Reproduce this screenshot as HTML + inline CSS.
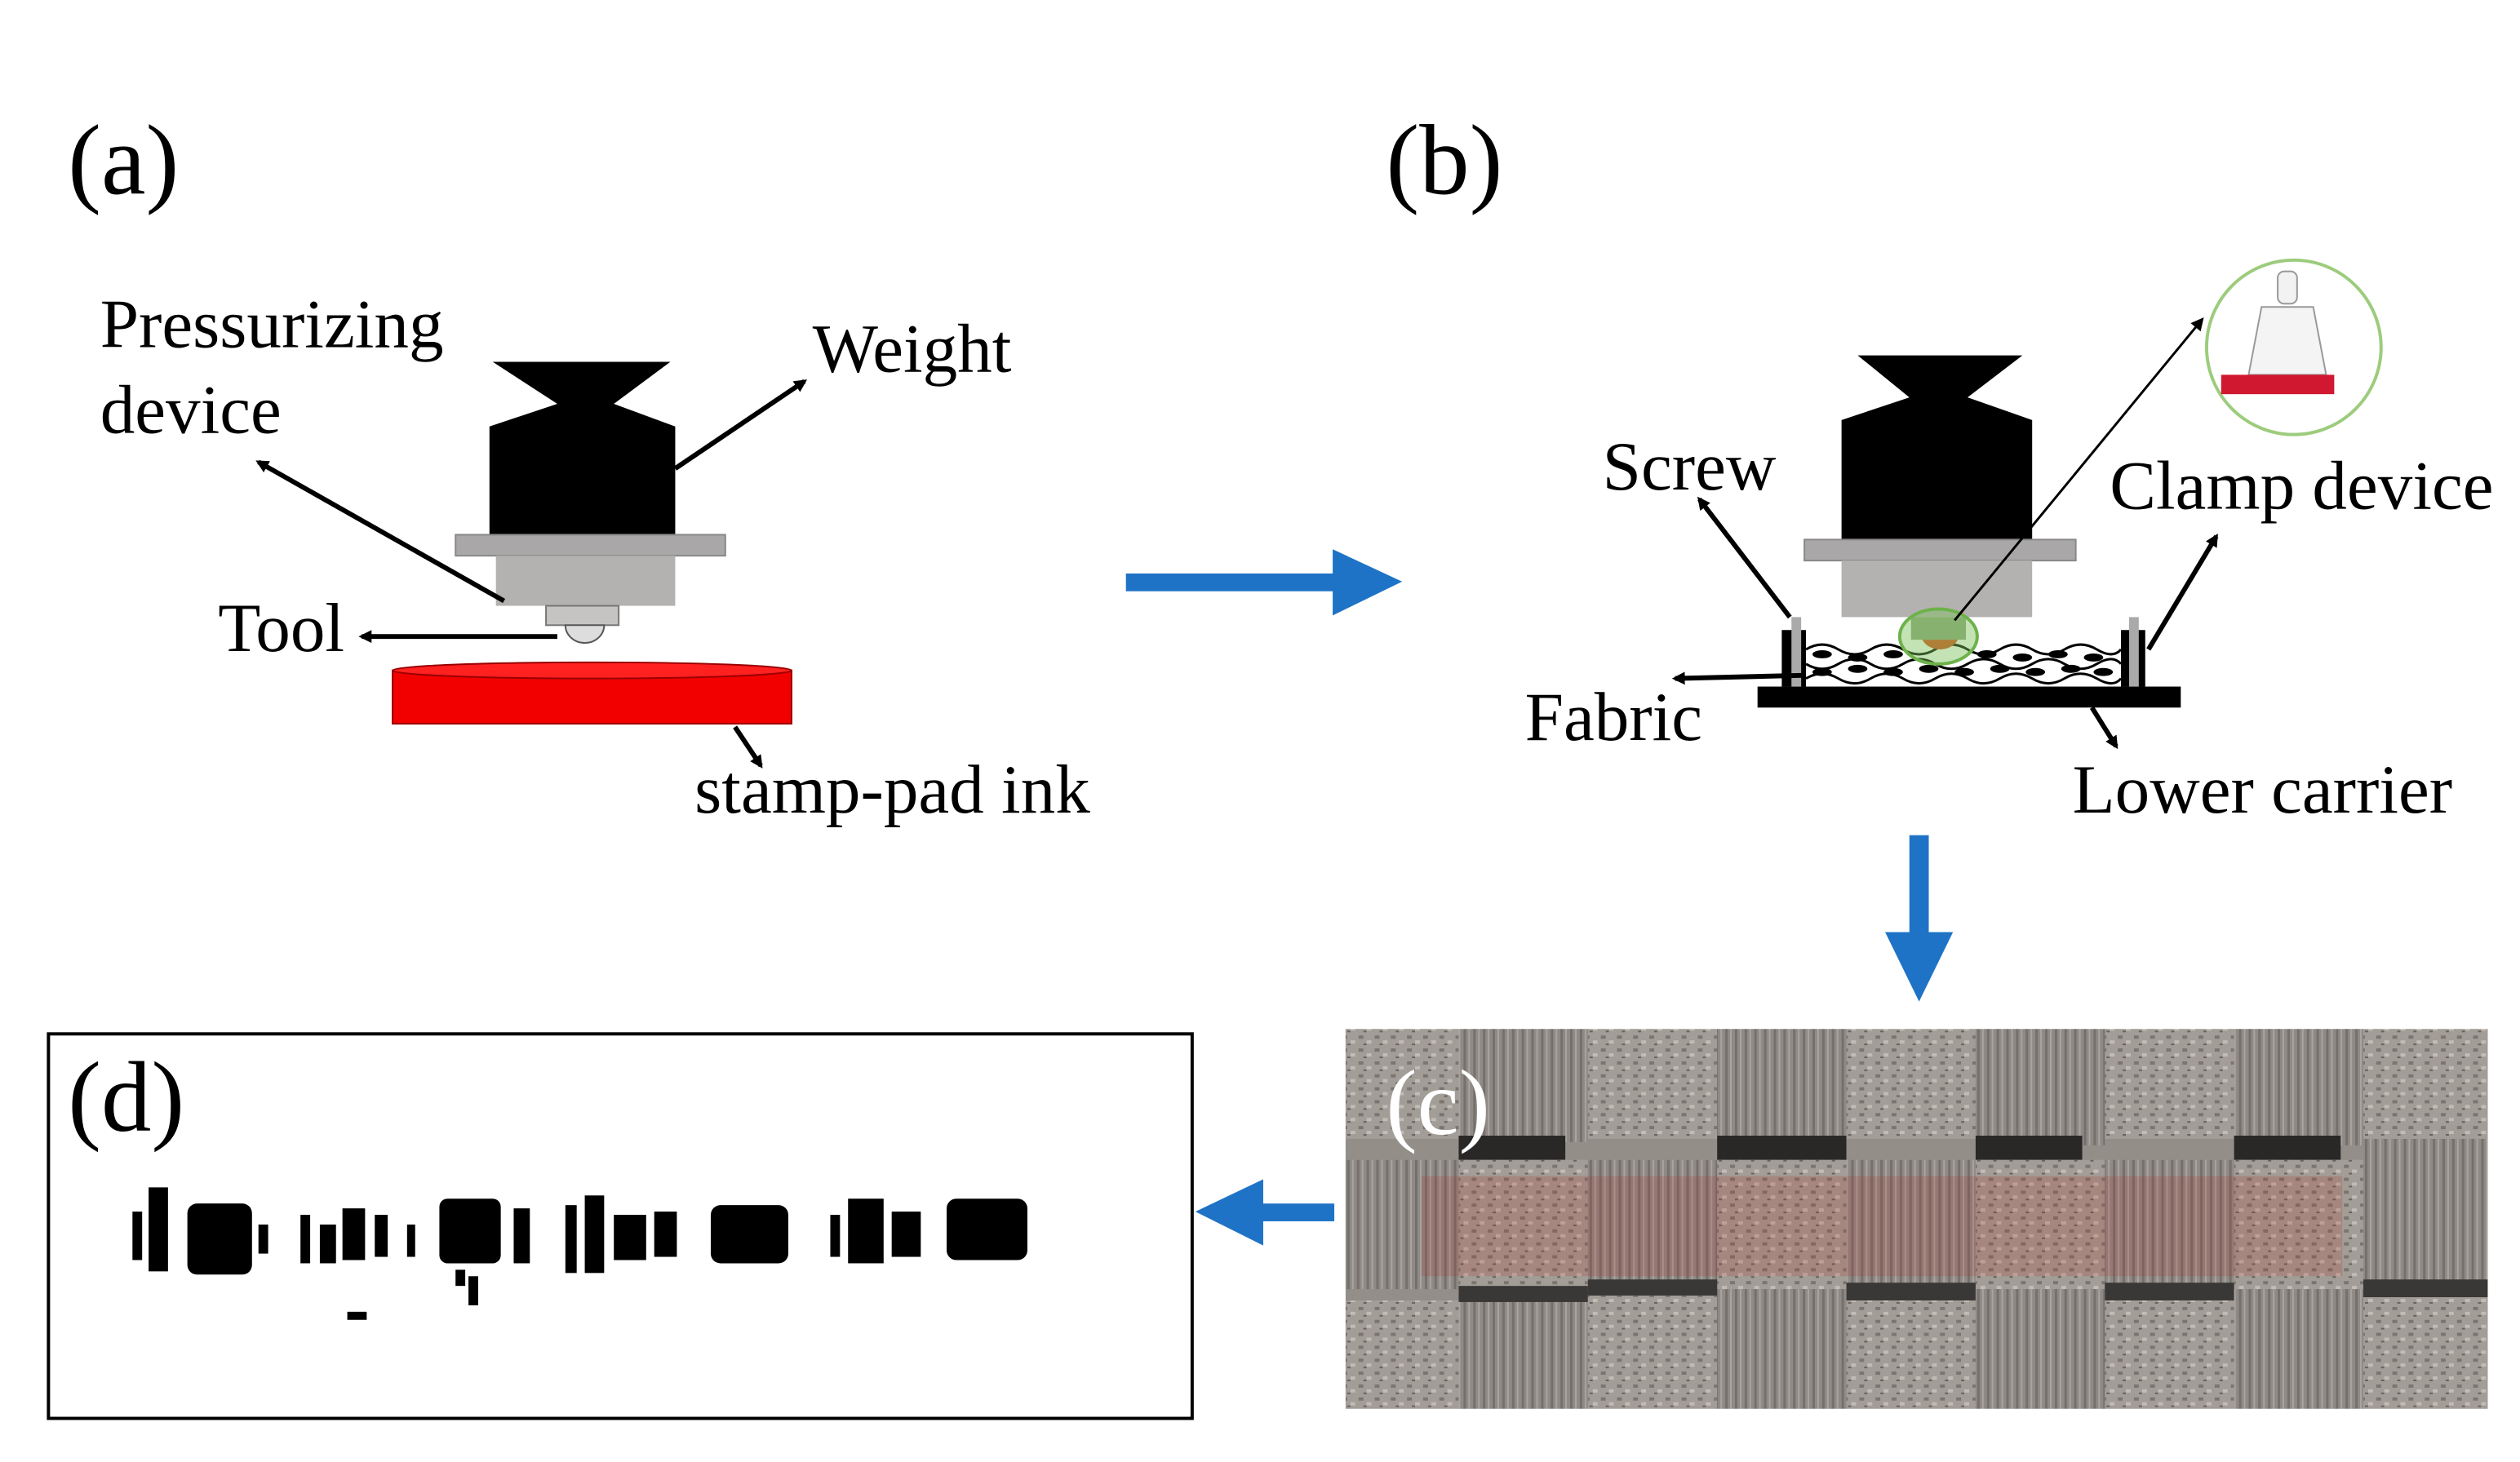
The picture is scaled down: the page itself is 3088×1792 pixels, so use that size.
<!DOCTYPE html>
<html><head><meta charset="utf-8"><style>
html,body{margin:0;padding:0;background:#fff}
svg{display:block}
text{font-family:"Liberation Serif",serif;fill:#000}
</style></head><body>
<svg width="3088" height="1792" viewBox="0 0 1560 905" preserveAspectRatio="none" xmlns="http://www.w3.org/2000/svg">
<defs>
<marker id="ah" markerWidth="8" markerHeight="8" refX="6" refY="4" orient="auto" markerUnits="userSpaceOnUse"><path d="M0,0 L8,4 L0,8 Z" fill="#000"/></marker>
<pattern id="vl" width="6" height="40" patternUnits="userSpaceOnUse">
<rect width="6" height="40" fill="#8f8a86"/><rect x="0" width="1.5" height="40" fill="#75706c"/><rect x="3" width="1" height="40" fill="#aaa49f"/></pattern>
<pattern id="sp" width="10" height="8" patternUnits="userSpaceOnUse">
<rect width="10" height="8" fill="#a39d97"/><rect x="1" y="1" width="3" height="2" fill="#7a7571"/><rect x="6" y="4" width="3" height="2" fill="#c2bcb6"/><rect x="4" y="6" width="2" height="1" fill="#67625f"/></pattern>
</defs>

<!-- Panel a -->
<text x="42" y="120" font-size="62">(a)</text>
<text x="62" y="215" font-size="43">Pressurizing</text>
<text x="62" y="268" font-size="43">device</text>
<text x="503" y="230" font-size="43">Weight</text>
<text x="135" y="403" font-size="43">Tool</text>
<text x="430" y="503" font-size="43">stamp-pad ink</text>
<polygon points="305,224 415,224 380,250 418,264 418,332 303,332 303,264 345,250" fill="#000"/>
<rect x="282" y="331" width="167" height="13" fill="#a9a7a7" stroke="#888" stroke-width="1"/>
<rect x="307" y="344" width="111" height="31" fill="#b4b1b1"/>
<rect x="338" y="375" width="45" height="12" fill="#c6c3c3" stroke="#777" stroke-width="1"/>
<path d="M350,387 A12,11 0 0 0 374,387 Z" fill="#ddd" stroke="#555" stroke-width="1"/>
<rect x="243" y="415" width="247" height="33" fill="#f20000" stroke="#900" stroke-width="1"/>
<ellipse cx="366.5" cy="415" rx="123.5" ry="5" fill="#ff2020" stroke="#900" stroke-width="1"/>
<line x1="312" y1="372" x2="160" y2="286" stroke="#000" stroke-width="3" marker-end="url(#ah)"/>
<line x1="418" y1="290" x2="498" y2="236" stroke="#000" stroke-width="3" marker-end="url(#ah)"/>
<line x1="345" y1="394" x2="224" y2="394" stroke="#000" stroke-width="3" marker-end="url(#ah)"/>
<line x1="455" y1="450" x2="471" y2="474" stroke="#000" stroke-width="3" marker-end="url(#ah)"/>

<!-- blue arrows -->
<rect x="697" y="355" width="130" height="11" fill="#1f73c6"/>
<polygon points="825,340 868,360 825,381" fill="#1f73c6"/>
<rect x="1182" y="517" width="12" height="62" fill="#1f73c6"/>
<polygon points="1167,577 1188,620 1209,577" fill="#1f73c6"/>
<rect x="780" y="745" width="46" height="11" fill="#1f73c6"/>
<polygon points="782,730 740,750 782,771" fill="#1f73c6"/>

<!-- Panel b -->
<text x="858" y="120" font-size="62">(b)</text>
<text x="992" y="303" font-size="43">Screw</text>
<text x="1306" y="315" font-size="43">Clamp device</text>
<text x="944" y="458" font-size="43">Fabric</text>
<text x="1283" y="503" font-size="43">Lower carrier</text>
<polygon points="1150,220 1252,220 1218,246 1258,260 1258,334 1140,334 1140,260 1182,246" fill="#000"/>
<rect x="1117" y="334" width="168" height="13" fill="#a9a7a7" stroke="#888" stroke-width="1"/>
<rect x="1140" y="347" width="118" height="35" fill="#b4b1b1"/>
<rect x="1088" y="425" width="262" height="13" fill="#000"/>
<rect x="1103" y="390" width="15" height="35" fill="#000"/>
<rect x="1109" y="382" width="6" height="43" fill="#aaa"/>
<rect x="1313" y="390" width="15" height="35" fill="#000"/>
<rect x="1318" y="382" width="6" height="43" fill="#aaa"/>
<g stroke="#000" stroke-width="1.5" fill="none">
<path d="M1118,402 q10,-6 20,0 t20,0 t20,0 t20,0 t20,0 t20,0 t20,0 t20,0 t20,0 t15,0"/>
<path d="M1118,411 q10,6 20,0 t20,0 t20,0 t20,0 t20,0 t20,0 t20,0 t20,0 t20,0 t15,0"/>
<path d="M1118,420 q10,-6 20,0 t20,0 t20,0 t20,0 t20,0 t20,0 t20,0 t20,0 t20,0 t15,0"/>
</g>
<g fill="#000">
<ellipse cx="1128" cy="405" rx="6" ry="2.5"/><ellipse cx="1150" cy="407" rx="6" ry="2.5"/><ellipse cx="1172" cy="405" rx="6" ry="2.5"/><ellipse cx="1230" cy="405" rx="6" ry="2.5"/><ellipse cx="1252" cy="407" rx="6" ry="2.5"/><ellipse cx="1274" cy="405" rx="6" ry="2.5"/><ellipse cx="1296" cy="407" rx="6" ry="2.5"/>
<ellipse cx="1128" cy="416" rx="6" ry="2.5"/><ellipse cx="1150" cy="414" rx="6" ry="2.5"/><ellipse cx="1172" cy="416" rx="6" ry="2.5"/><ellipse cx="1194" cy="414" rx="6" ry="2.5"/><ellipse cx="1216" cy="416" rx="6" ry="2.5"/><ellipse cx="1238" cy="414" rx="6" ry="2.5"/><ellipse cx="1260" cy="416" rx="6" ry="2.5"/><ellipse cx="1282" cy="414" rx="6" ry="2.5"/><ellipse cx="1302" cy="416" rx="6" ry="2.5"/>
</g>
<rect x="1183" y="382" width="34" height="14" fill="#8fa57e"/>
<path d="M1190,396 A12,10 0 0 0 1212,396 Z" fill="#d64a1a"/>
<ellipse cx="1200" cy="394" rx="24" ry="17" fill="#7cc25a" fill-opacity="0.45" stroke="#6db24a" stroke-width="2"/>
<line x1="1210" y1="384" x2="1363" y2="198" stroke="#000" stroke-width="1.5" marker-end="url(#ah)"/>
<circle cx="1420" cy="215" r="54" fill="#fff" stroke="#9ccc7c" stroke-width="2"/>
<rect x="1410" y="168" width="12" height="20" rx="4" fill="#f2f2f2" stroke="#999"/>
<path d="M1400,190 L1432,190 L1440,232 L1392,232 Z" fill="#f4f4f4" stroke="#999"/>
<rect x="1375" y="232" width="70" height="12" fill="#d01830"/>
<line x1="1108" y1="382" x2="1052" y2="309" stroke="#000" stroke-width="3" marker-end="url(#ah)"/>
<line x1="1330" y1="402" x2="1372" y2="332" stroke="#000" stroke-width="3" marker-end="url(#ah)"/>
<line x1="1118" y1="418" x2="1037" y2="420" stroke="#000" stroke-width="3" marker-end="url(#ah)"/>
<line x1="1295" y1="438" x2="1310" y2="462" stroke="#000" stroke-width="3" marker-end="url(#ah)"/>

<!-- Panel c -->
<g>
<rect x="833" y="637" width="707" height="235" fill="#948e89"/>
<rect x="833" y="637" width="70" height="68" fill="url(#sp)"/>
<rect x="903" y="637" width="80" height="70" fill="url(#vl)"/>
<rect x="983" y="637" width="80" height="68" fill="url(#sp)"/>
<rect x="1063" y="637" width="80" height="72" fill="url(#vl)"/>
<rect x="1143" y="637" width="80" height="68" fill="url(#sp)"/>
<rect x="1223" y="637" width="80" height="72" fill="url(#vl)"/>
<rect x="1303" y="637" width="80" height="68" fill="url(#sp)"/>
<rect x="1383" y="637" width="80" height="72" fill="url(#vl)"/>
<rect x="1463" y="637" width="77" height="68" fill="url(#sp)"/>
<rect x="903" y="703" width="66" height="15" fill="#2a2827"/>
<rect x="1063" y="703" width="80" height="15" fill="#2a2827"/>
<rect x="1223" y="703" width="66" height="15" fill="#2a2827"/>
<rect x="1383" y="703" width="66" height="15" fill="#2a2827"/>
<rect x="833" y="718" width="70" height="80" fill="url(#vl)"/>
<rect x="903" y="718" width="80" height="80" fill="url(#sp)"/>
<rect x="983" y="718" width="80" height="80" fill="url(#vl)"/>
<rect x="1063" y="718" width="80" height="80" fill="url(#sp)"/>
<rect x="1143" y="718" width="80" height="80" fill="url(#vl)"/>
<rect x="1223" y="718" width="80" height="80" fill="url(#sp)"/>
<rect x="1303" y="718" width="80" height="80" fill="url(#vl)"/>
<rect x="1383" y="718" width="80" height="80" fill="url(#sp)"/>
<rect x="1463" y="705" width="77" height="90" fill="url(#vl)"/>
<rect x="880" y="728" width="570" height="62" fill="#b0302a" fill-opacity="0.2"/>
<rect x="903" y="796" width="80" height="10" fill="#3a3837"/>
<rect x="983" y="792" width="80" height="10" fill="#3a3837"/>
<rect x="1143" y="794" width="80" height="11" fill="#3a3837"/>
<rect x="1303" y="794" width="80" height="11" fill="#3a3837"/>
<rect x="1463" y="792" width="77" height="11" fill="#3a3837"/>
<rect x="833" y="805" width="70" height="67" fill="url(#sp)"/>
<rect x="903" y="806" width="80" height="66" fill="url(#vl)"/>
<rect x="983" y="802" width="80" height="70" fill="url(#sp)"/>
<rect x="1063" y="798" width="80" height="74" fill="url(#vl)"/>
<rect x="1143" y="805" width="80" height="67" fill="url(#sp)"/>
<rect x="1223" y="798" width="80" height="74" fill="url(#vl)"/>
<rect x="1303" y="805" width="80" height="67" fill="url(#sp)"/>
<rect x="1383" y="798" width="80" height="74" fill="url(#vl)"/>
<rect x="1463" y="803" width="77" height="69" fill="url(#sp)"/>
</g>
<text x="858" y="702" font-size="58" style="fill:#fff">(c)</text>

<!-- Panel d -->
<rect x="30" y="640" width="708" height="238" fill="#fff" stroke="#000" stroke-width="2"/>
<text x="42" y="700" font-size="62">(d)</text>
<g fill="#000">
<rect x="82" y="750" width="6" height="30"/><rect x="92" y="735" width="12" height="52"/>
<rect x="116" y="745" width="40" height="44" rx="6"/><rect x="160" y="758" width="6" height="18"/>
<rect x="186" y="752" width="6" height="30"/><rect x="198" y="758" width="10" height="24"/><rect x="212" y="748" width="14" height="32"/><rect x="232" y="752" width="8" height="26"/>
<rect x="215" y="812" width="12" height="5"/>
<rect x="252" y="758" width="5" height="20"/>
<rect x="272" y="742" width="38" height="40" rx="5"/><rect x="290" y="790" width="6" height="18"/><rect x="282" y="786" width="6" height="10"/>
<rect x="318" y="748" width="10" height="34"/>
<rect x="350" y="746" width="7" height="42"/><rect x="362" y="740" width="12" height="48"/><rect x="380" y="752" width="20" height="28"/><rect x="405" y="750" width="14" height="28"/>
<rect x="440" y="746" width="48" height="36" rx="6"/>
<rect x="514" y="752" width="6" height="26"/><rect x="525" y="742" width="22" height="40"/><rect x="552" y="750" width="18" height="28"/>
<rect x="586" y="742" width="50" height="38" rx="6"/>
</g>
</svg>
</body></html>
